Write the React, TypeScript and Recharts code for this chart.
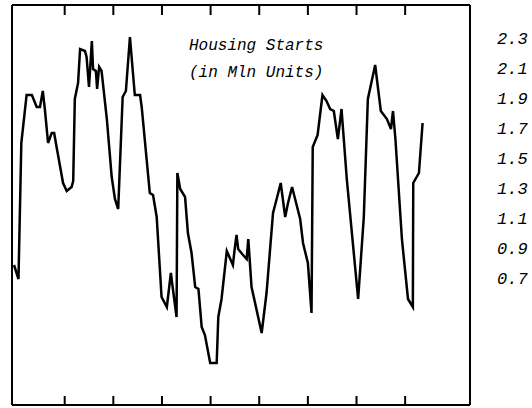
import React from "react";
import { LineChart, Line, XAxis, YAxis } from "recharts";

// Time position (months from start of plotted span) and housing starts (mln units)
const months = [
  0.5, 1.6, 2.3, 3.6, 4.9, 6.1, 6.9, 7.6, 8.1, 8.9, 9.8, 10.4, 11.0, 12.6, 13.5, 14.7, 15.1, 15.5, 16.3, 16.8,
  18.0, 18.4, 19.0, 19.7, 20.0, 20.7, 21.0, 21.5, 22.1, 23.4, 24.6, 25.4, 26.2, 27.3, 28.1, 29.1, 30.3, 31.6, 32.0, 34.0,
  34.8, 35.7, 36.9, 38.2, 39.2, 39.7, 40.6, 40.8, 41.5, 42.7, 43.4, 44.3, 45.2, 46.0, 46.8, 47.6, 48.9, 50.5, 50.9, 51.7,
  53.0, 54.5, 55.0, 55.4, 55.8, 57.0, 57.9, 58.3, 59.1, 61.6, 62.8, 64.4, 65.3, 66.3, 67.4, 68.1, 69.1, 71.1, 71.8, 73.0,
  73.9, 74.2, 75.4, 76.6, 77.6, 78.5, 79.4, 80.4, 81.3, 82.6, 85.4, 86.8, 87.8, 89.6, 91.0, 92.5, 93.5, 94.0, 94.6, 96.2,
  97.7, 98.9, 99.0, 100.4, 101.3,
];
const starts = [
  1.30, 1.23, 1.91, 2.15, 2.15, 2.09, 2.09, 2.17, 2.08, 1.91, 1.96, 1.96, 1.89, 1.71, 1.67, 1.69, 1.72, 2.13, 2.21, 2.38,
  2.37, 2.34, 2.19, 2.42, 2.28, 2.27, 2.18, 2.29, 2.27, 2.03, 1.74, 1.63, 1.58, 2.14, 2.17, 2.44, 2.15, 2.15, 2.09, 1.66,
  1.65, 1.54, 1.14, 1.09, 1.26, 1.18, 1.04, 1.76, 1.68, 1.64, 1.46, 1.36, 1.19, 1.18, 0.99, 0.95, 0.81, 0.81, 1.04, 1.13,
  1.37, 1.30, 1.39, 1.45, 1.38, 1.35, 1.33, 1.43, 1.19, 0.96, 1.16, 1.56, 1.63, 1.71, 1.54, 1.61, 1.69, 1.53, 1.41, 1.31,
  1.06, 1.89, 1.95, 2.15, 2.12, 2.08, 2.07, 1.93, 2.08, 1.73, 1.13, 1.54, 2.13, 2.30, 2.07, 2.03, 1.98, 2.07, 1.93, 1.43,
  1.13, 1.09, 1.71, 1.76, 2.01,
];
const timeTicks = [13, 25, 37, 49, 61, 73, 85, 97];
const scaleLabels = [2.3, 2.1, 1.9, 1.7, 1.5, 1.3, 1.1, 0.9, 0.7];
const titleLines = ["Housing Starts", "(in Mln Units)"];

const data = months.map((m, i) => ({ m, v: starts[i] }));

const FONT = '"Liberation Mono", "Courier New", monospace';

export default function App() {
  return (
    <div style={{ position: "absolute", left: 0, top: 0, width: 532, height: 408, background: "#fff" }}>
      <LineChart width={532} height={408} data={data} margin={{ top: 0, right: 0, bottom: 3, left: 12 }}>
        <XAxis
          xAxisId="b"
          dataKey="m"
          type="number"
          domain={[0, 113]}
          ticks={timeTicks}
          interval={0}
          orientation="bottom"
          mirror
          height={20}
          tick={{ fill: "transparent", fontSize: 1 }}
          tickSize={9}
          tickLine={{ stroke: "#000", strokeWidth: 2 }}
          axisLine={{ stroke: "#000", strokeWidth: 2 }}
          allowDataOverflow
        />
        <XAxis
          xAxisId="t"
          dataKey="m"
          type="number"
          domain={[0, 113]}
          ticks={timeTicks}
          interval={0}
          orientation="top"
          height={5}
          tick={{ fill: "transparent", fontSize: 1 }}
          tickSize={-10}
          tickLine={{ stroke: "#000", strokeWidth: 2 }}
          axisLine={{ stroke: "#000", strokeWidth: 2 }}
          allowDataOverflow
        />
        <YAxis
          yAxisId="v"
          type="number"
          domain={[0.6, 2.6]}
          orientation="left"
          mirror
          width={20}
          tick={false}
          tickLine={false}
          axisLine={{ stroke: "#000", strokeWidth: 2 }}
          allowDataOverflow
        />
        <YAxis
          yAxisId="lbl"
          type="number"
          domain={[-0.142, 2.516]}
          ticks={scaleLabels}
          interval={0}
          orientation="right"
          width={62}
          tickSize={0}
          tickMargin={27}
          tickLine={false}
          tickFormatter={(v: number) => v.toFixed(1)}
          tick={{ fill: "#000", fontSize: 17, fontFamily: FONT, fontStyle: "italic" }}
          axisLine={{ stroke: "#000", strokeWidth: 2 }}
          allowDataOverflow
        />
        <Line
          xAxisId="t"
          yAxisId="v"
          dataKey="v"
          type="linear"
          stroke="none"
          dot={false}
          activeDot={false}
          legendType="none"
          isAnimationActive={false}
        />
        <Line
          xAxisId="b"
          yAxisId="v"
          dataKey="v"
          type="linear"
          stroke="#000"
          strokeWidth={2.5}
          dot={false}
          isAnimationActive={false}
        />
      </LineChart>
      <div
        style={{
          position: "absolute",
          left: 189,
          top: 33,
          fontFamily: FONT,
          fontStyle: "italic",
          fontSize: 16,
          lineHeight: "27px",
          color: "#000",
          whiteSpace: "pre",
        }}
      >
        {titleLines.map((t) => (
          <div key={t}>{t}</div>
        ))}
      </div>
    </div>
  );
}
